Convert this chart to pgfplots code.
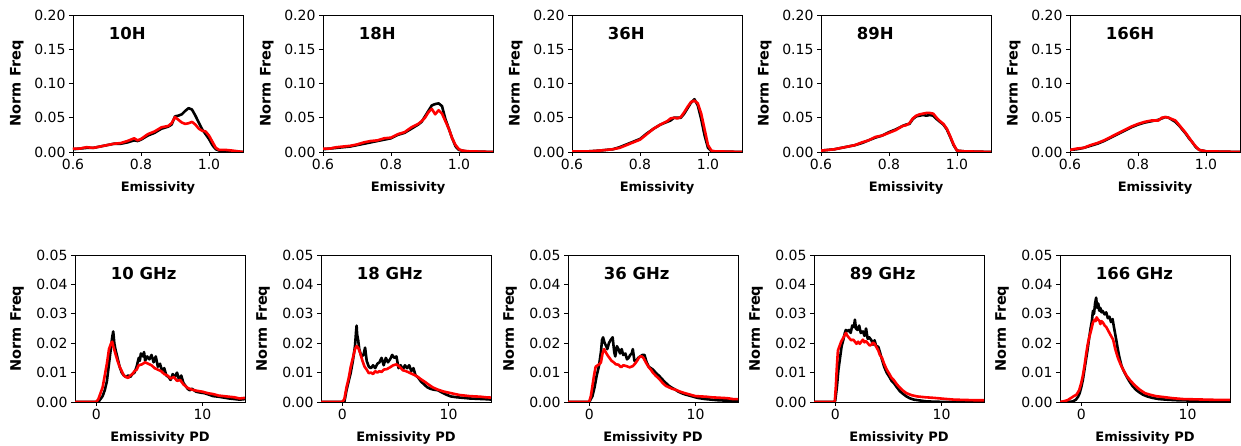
\documentclass[border=0pt]{standalone}
\usepackage{pgfplots}
\pgfplotsset{compat=1.18}
\usepackage{fontspec}
\setmainfont{DejaVu Sans}
\newcommand\tickf{\fontsize{14}{16}\selectfont}
\newcommand\labf{\fontsize{13}{15}\selectfont\bfseries}
\newcommand\ylabf{\fontsize{14.5}{16}\selectfont\bfseries}
\newcommand\titf{\fontsize{16.5}{19}\selectfont\bfseries}
\pgfplotsset{
  panel/.style={
    scale only axis, width=170pt,
    axis line style={line width=0.8pt},
    tick align=outside, major tick length=4pt,
    tick style={line width=0.8pt, black},
    xtick pos=bottom, ytick pos=left,
    ticklabel style={font=\tickf},
    /pgf/number format/assume math mode=true,
    scaled y ticks=false,
    yticklabel style={/pgf/number format/.cd, fixed, fixed zerofill, precision=2},
    ylabel={Norm Freq},
    clip=true,
  },
  toprow/.style={panel, height=137pt, xmin=0.6, xmax=1.1, ymin=0, ymax=0.2,
    xtick={0.6,0.8,1.0}, xticklabels={0.6,0.8,1.0},
    ytick={0,0.05,0.10,0.15,0.20},
    xlabel={Emissivity},
    every axis x label/.style={at={(axis description cs:0.5,-0.215)}, anchor=north, inner sep=0pt, font=\labf},
    every axis y label/.style={at={(axis description cs:-0.33,0.5)}, rotate=90, anchor=center, inner sep=0pt, font=\ylabf},
  },
  botrow/.style={panel, height=147pt, xmin=-2, xmax=14, ymin=0, ymax=0.05,
    xtick={0,10},
    ytick={0,0.01,0.02,0.03,0.04,0.05},
    xlabel={Emissivity PD},
    every axis x label/.style={at={(axis description cs:0.5,-0.2)}, anchor=north, inner sep=0pt, font=\labf},
    every axis y label/.style={at={(axis description cs:-0.34,0.5)}, rotate=90, anchor=center, inner sep=0pt, font=\ylabf},
  },
  bl/.style={black, line width=2.6pt, line join=round},
  rd/.style={red, line width=2.6pt, line join=round},
}
\begin{document}
\begin{tikzpicture}
\path[use as bounding box] (0,0) rectangle (1241pt,446pt);

% ---------- 10H ----------
\begin{axis}[toprow, at={(73pt,294pt)}, anchor=south west]
\addplot[bl] table {
0.60 0.004
0.62 0.005
0.64 0.006
0.66 0.006
0.68 0.008
0.70 0.010
0.72 0.012
0.74 0.012
0.76 0.014
0.78 0.017
0.79 0.016
0.80 0.018
0.82 0.024
0.84 0.028
0.86 0.034
0.88 0.037
0.89 0.040
0.90 0.052
0.91 0.053
0.92 0.055
0.93 0.060
0.94 0.064
0.95 0.062
0.96 0.053
0.97 0.043
0.98 0.033
0.99 0.026
1.00 0.019
1.01 0.010
1.02 0.004
1.03 0.002
1.05 0.001
1.10 0.000
};
\addplot[rd] table {
0.60 0.005
0.62 0.005
0.64 0.007
0.66 0.006
0.68 0.008
0.70 0.010
0.72 0.012
0.74 0.013
0.76 0.016
0.78 0.020
0.79 0.017
0.80 0.019
0.82 0.026
0.84 0.030
0.86 0.036
0.88 0.038
0.89 0.042
0.90 0.051
0.91 0.047
0.92 0.043
0.93 0.041
0.94 0.042
0.95 0.044
0.96 0.040
0.97 0.034
0.98 0.031
0.99 0.030
1.00 0.024
1.01 0.015
1.02 0.006
1.03 0.003
1.05 0.003
1.07 0.002
1.10 0.000
};
\node[anchor=base west, font=\titf, inner sep=0pt] at (rel axis cs:0.21,0.818) {10H};
\end{axis}

% ---------- 18H ----------
\begin{axis}[toprow, at={(323pt,294pt)}, anchor=south west]
\addplot[bl] table {
0.60 0.004
0.62 0.005
0.64 0.006
0.66 0.007
0.68 0.008
0.70 0.010
0.72 0.012
0.74 0.014
0.76 0.016
0.78 0.018
0.80 0.020
0.82 0.025
0.84 0.028
0.86 0.034
0.88 0.040
0.89 0.044
0.90 0.052
0.91 0.060
0.92 0.068
0.93 0.070
0.94 0.071
0.95 0.067
0.96 0.048
0.97 0.034
0.98 0.020
0.99 0.008
1.00 0.003
1.02 0.001
1.10 0.000
};
\addplot[rd] table {
0.60 0.005
0.62 0.005
0.64 0.007
0.66 0.008
0.68 0.009
0.70 0.011
0.72 0.014
0.74 0.016
0.76 0.017
0.78 0.020
0.80 0.021
0.82 0.026
0.84 0.029
0.86 0.036
0.88 0.041
0.89 0.045
0.90 0.050
0.91 0.058
0.92 0.063
0.93 0.055
0.94 0.061
0.95 0.056
0.96 0.045
0.97 0.034
0.98 0.020
0.99 0.010
1.00 0.004
1.01 0.002
1.03 0.001
1.10 0.000
};
\node[anchor=base west, font=\titf, inner sep=0pt] at (rel axis cs:0.21,0.818) {18H};
\end{axis}

% ---------- 36H ----------
\begin{axis}[toprow, at={(572pt,294pt)}, anchor=south west]
\addplot[bl] table {
0.60 0.001
0.65 0.001
0.68 0.002
0.70 0.003
0.72 0.004
0.74 0.007
0.76 0.011
0.78 0.015
0.80 0.019
0.82 0.027
0.84 0.034
0.86 0.040
0.88 0.044
0.89 0.046
0.90 0.050
0.91 0.050
0.92 0.050
0.93 0.056
0.94 0.064
0.95 0.072
0.96 0.077
0.97 0.068
0.98 0.048
0.99 0.024
1.00 0.006
1.01 0.001
1.10 0.000
};
\addplot[rd] table {
0.60 0.001
0.65 0.001
0.68 0.002
0.70 0.003
0.72 0.004
0.74 0.006
0.76 0.010
0.78 0.014
0.80 0.018
0.82 0.026
0.84 0.034
0.86 0.040
0.88 0.045
0.89 0.049
0.90 0.050
0.91 0.049
0.92 0.051
0.93 0.058
0.94 0.066
0.95 0.073
0.96 0.075
0.97 0.071
0.98 0.056
0.99 0.033
1.00 0.010
1.01 0.002
1.02 0.001
1.10 0.000
};
\node[anchor=base west, font=\titf, inner sep=0pt] at (rel axis cs:0.21,0.818) {36H};
\end{axis}

% ---------- 89H ----------
\begin{axis}[toprow, at={(821pt,294pt)}, anchor=south west]
\addplot[bl] table {
0.60 0.002
0.62 0.003
0.64 0.004
0.66 0.006
0.68 0.008
0.70 0.010
0.72 0.013
0.74 0.017
0.76 0.021
0.78 0.024
0.80 0.029
0.82 0.033
0.84 0.038
0.85 0.040
0.86 0.041
0.87 0.048
0.88 0.052
0.89 0.053
0.90 0.054
0.91 0.053
0.92 0.054
0.93 0.053
0.94 0.048
0.95 0.044
0.96 0.040
0.97 0.033
0.98 0.022
0.99 0.010
1.00 0.002
1.02 0.001
1.10 0.000
};
\addplot[rd] table {
0.60 0.002
0.62 0.003
0.64 0.004
0.66 0.006
0.68 0.008
0.70 0.010
0.72 0.014
0.74 0.017
0.76 0.022
0.78 0.024
0.80 0.028
0.82 0.032
0.84 0.038
0.85 0.039
0.86 0.042
0.87 0.049
0.88 0.053
0.89 0.055
0.90 0.056
0.91 0.057
0.92 0.057
0.93 0.056
0.94 0.050
0.95 0.045
0.96 0.041
0.97 0.034
0.98 0.023
0.99 0.011
1.00 0.002
1.02 0.001
1.10 0.000
};
\node[anchor=base west, font=\titf, inner sep=0pt] at (rel axis cs:0.21,0.818) {89H};
\end{axis}

% ---------- 166H ----------
\begin{axis}[toprow, at={(1070pt,294pt)}, anchor=south west]
\addplot[bl] table {
0.60 0.003
0.62 0.004
0.64 0.006
0.66 0.009
0.68 0.012
0.70 0.016
0.72 0.021
0.74 0.026
0.76 0.031
0.78 0.036
0.80 0.040
0.82 0.043
0.84 0.045
0.86 0.047
0.87 0.049
0.88 0.051
0.89 0.050
0.90 0.047
0.91 0.044
0.92 0.039
0.93 0.033
0.94 0.027
0.95 0.020
0.96 0.014
0.97 0.007
0.98 0.003
1.00 0.001
1.10 0.000
};
\addplot[rd] table {
0.60 0.003
0.62 0.005
0.64 0.006
0.66 0.010
0.68 0.013
0.70 0.017
0.72 0.022
0.74 0.027
0.76 0.032
0.78 0.037
0.80 0.041
0.82 0.044
0.84 0.046
0.86 0.046
0.87 0.050
0.88 0.051
0.89 0.050
0.90 0.048
0.91 0.046
0.92 0.040
0.93 0.034
0.94 0.028
0.95 0.021
0.96 0.014
0.97 0.008
0.98 0.003
1.00 0.001
1.10 0.000
};
\node[anchor=base west, font=\titf, inner sep=0pt] at (rel axis cs:0.21,0.818) {166H};
\end{axis}

% ---------- 10 GHz ----------
\begin{axis}[botrow, at={(75pt,44pt)}, anchor=south west]
\addplot[bl] table {
-2 0
0 0
0.2 0
0.4 0.001
0.6 0.002
0.8 0.004
1.0 0.007
1.2 0.013
1.4 0.019
1.5 0.022
1.6 0.024
1.7 0.020
1.8 0.018
2.0 0.015
2.2 0.012
2.4 0.010
2.6 0.009
2.8 0.0085
3.0 0.009
3.2 0.0085
3.4 0.0095
3.6 0.010
3.8 0.012
4.0 0.015
4.1 0.014
4.2 0.0165
4.4 0.0155
4.5 0.017
4.6 0.014
4.8 0.0155
5.0 0.0145
5.2 0.016
5.4 0.0135
5.6 0.0155
5.8 0.012
6.0 0.013
6.2 0.0105
6.4 0.0115
6.6 0.009
6.8 0.0085
7.0 0.0075
7.2 0.0095
7.4 0.0085
7.6 0.010
7.8 0.0075
8.0 0.009
8.2 0.0065
8.4 0.0055
8.6 0.0045
8.8 0.004
9.0 0.0045
9.4 0.0035
9.8 0.0032
10.2 0.003
10.6 0.0025
11.0 0.002
11.5 0.0018
12.0 0.0015
12.5 0.0012
13.0 0.001
13.5 0.0008
14.0 0.001
};
\addplot[rd] table {
-2 0
0 0
0.2 0.001
0.4 0.003
0.6 0.005
0.8 0.009
1.0 0.013
1.2 0.018
1.4 0.020
1.5 0.0205
1.6 0.019
1.8 0.0165
2.0 0.014
2.2 0.012
2.4 0.0105
2.6 0.009
2.8 0.0085
3.0 0.0082
3.2 0.009
3.4 0.0095
3.6 0.0105
3.8 0.011
4.0 0.0125
4.3 0.0128
4.6 0.0135
4.9 0.013
5.2 0.0125
5.5 0.0115
5.8 0.011
6.1 0.0105
6.4 0.0095
6.7 0.009
7.0 0.008
7.3 0.0085
7.6 0.0072
7.9 0.0075
8.2 0.006
8.6 0.0048
9.0 0.0042
9.5 0.0038
10.0 0.0035
10.5 0.003
11.0 0.0027
11.5 0.0022
12.0 0.002
12.5 0.0018
13.0 0.0016
13.5 0.0012
14.0 0.0014
};
\node[anchor=base west, font=\titf, inner sep=0pt] at (rel axis cs:0.21,0.83) {10 GHz};
\end{axis}

% ---------- 18 GHz ----------
\begin{axis}[botrow, at={(321pt,44pt)}, anchor=south west]
\addplot[bl] table {
-2 0
0 0
0.2 0
0.4 0.004
0.6 0.007
0.8 0.010
1.0 0.014
1.2 0.019
1.3 0.024
1.35 0.026
1.4 0.023
1.5 0.021
1.6 0.018
1.8 0.0155
2.0 0.016
2.15 0.0185
2.3 0.014
2.5 0.012
2.7 0.0115
2.9 0.0125
3.1 0.0115
3.3 0.013
3.5 0.0135
3.7 0.015
3.9 0.0125
4.1 0.015
4.3 0.0135
4.5 0.0145
4.7 0.016
4.9 0.015
5.1 0.0155
5.3 0.0115
5.5 0.0125
5.7 0.011
5.9 0.0125
6.1 0.0115
6.3 0.0125
6.5 0.0105
6.7 0.0115
6.9 0.009
7.1 0.0085
7.4 0.007
7.7 0.006
8.0 0.005
8.3 0.0045
8.6 0.0042
9.0 0.004
9.4 0.0032
9.8 0.0025
10.2 0.0019
10.8 0.0016
11.4 0.0014
12.0 0.0012
12.6 0.0011
13.2 0.001
13.8 0.0009
14.0 0.0008
};
\addplot[rd] table {
-2 0
0 0
0.2 0.001
0.4 0.005
0.6 0.008
0.8 0.012
1.0 0.015
1.2 0.018
1.35 0.019
1.5 0.0185
1.7 0.0165
1.9 0.014
2.1 0.012
2.3 0.011
2.5 0.0098
2.7 0.010
2.9 0.0095
3.1 0.0105
3.3 0.010
3.5 0.0105
3.7 0.0102
3.9 0.011
4.2 0.0112
4.5 0.0118
4.8 0.0125
5.1 0.0128
5.4 0.012
5.7 0.0108
6.0 0.0105
6.3 0.010
6.6 0.0095
6.9 0.009
7.2 0.0083
7.5 0.0075
7.8 0.0068
8.1 0.006
8.5 0.005
9.0 0.0042
9.5 0.0036
10.0 0.0032
10.5 0.0028
11.0 0.0024
11.5 0.0022
12.0 0.002
12.5 0.0019
13.0 0.0018
13.5 0.0016
14.0 0.0015
};
\node[anchor=base west, font=\titf, inner sep=0pt] at (rel axis cs:0.21,0.83) {18 GHz};
\end{axis}

% ---------- 36 GHz ----------
\begin{axis}[botrow, at={(568pt,44pt)}, anchor=south west]
\addplot[bl] table {
-2 0
0 0
0.3 0.002
0.5 0.005
0.7 0.009
0.9 0.012
1.1 0.017
1.2 0.021
1.3 0.022
1.45 0.020
1.6 0.019
1.7 0.018
1.85 0.020
2.0 0.021
2.2 0.022
2.35 0.017
2.45 0.0155
2.6 0.019
2.75 0.018
2.9 0.0165
3.05 0.018
3.2 0.016
3.4 0.0165
3.55 0.0145
3.7 0.015
3.85 0.016
4.0 0.0165
4.1 0.018
4.25 0.014
4.4 0.0138
4.6 0.015
4.8 0.0155
5.0 0.016
5.2 0.016
5.4 0.0135
5.6 0.012
5.8 0.0115
6.0 0.011
6.3 0.0098
6.6 0.0088
6.9 0.0076
7.2 0.0065
7.5 0.0055
7.8 0.0048
8.1 0.0042
8.4 0.0035
8.7 0.003
9.0 0.0026
9.4 0.0022
9.8 0.0018
10.2 0.0014
10.9 0.001
11.5 0.0008
12.1 0.0006
12.7 0.0005
13.3 0.0005
14.0 0.0004
};
\addplot[rd] table {
-2 0
-0.1 0
0.0 0.0002
0.15 0.002
0.3 0.0055
0.45 0.009
0.6 0.012
0.8 0.0125
1.0 0.013
1.1 0.0135
1.25 0.0165
1.4 0.018
1.55 0.017
1.7 0.016
1.9 0.015
2.1 0.014
2.3 0.0135
2.5 0.0128
2.75 0.0127
3.0 0.0118
3.2 0.0125
3.5 0.0122
3.8 0.0118
4.1 0.0122
4.3 0.013
4.5 0.014
4.7 0.0152
4.9 0.0156
5.1 0.015
5.35 0.0133
5.6 0.0118
5.8 0.011
6.0 0.0099
6.3 0.0088
6.6 0.0078
6.9 0.0065
7.2 0.0055
7.5 0.005
7.8 0.0045
8.1 0.0042
8.5 0.0036
9.0 0.003
9.5 0.0025
10.0 0.002
10.5 0.0019
11.0 0.0018
11.5 0.0016
12.0 0.0015
12.5 0.0014
13.0 0.0013
13.5 0.001
14.0 0.001
};
\node[anchor=base west, font=\titf, inner sep=0pt] at (rel axis cs:0.21,0.83) {36 GHz};
\end{axis}

% ---------- 89 GHz ----------
\begin{axis}[botrow, at={(814pt,44pt)}, anchor=south west]
\addplot[bl] table {
-2 0
-0.1 0
0.0 0.0005
0.15 0.005
0.3 0.011
0.45 0.015
0.6 0.019
0.75 0.021
0.9 0.0235
1.0 0.0245
1.15 0.024
1.3 0.0245
1.45 0.0235
1.6 0.026
1.75 0.0255
1.85 0.028
1.95 0.025
2.1 0.0245
2.25 0.026
2.4 0.0235
2.6 0.024
2.75 0.0225
2.9 0.025
3.05 0.0215
3.2 0.022
3.4 0.021
3.55 0.0195
3.7 0.021
3.85 0.019
4.05 0.0188
4.2 0.017
4.4 0.0144
4.6 0.012
4.85 0.0099
5.1 0.0085
5.3 0.0072
5.5 0.0065
5.8 0.005
6.1 0.0036
6.4 0.0027
6.7 0.0019
7.0 0.0013
7.4 0.0008
8.0 0.0005
8.6 0.0002
9.5 0.0001
10.5 0
14.0 0
};
\addplot[rd] table {
-2 0
-0.05 0
0.05 0.005
0.15 0.012
0.25 0.0175
0.4 0.019
0.55 0.0205
0.75 0.0218
0.9 0.0228
1.0 0.0235
1.15 0.0225
1.3 0.0218
1.5 0.021
1.7 0.0212
1.85 0.0205
2.0 0.0198
2.15 0.0205
2.3 0.0198
2.45 0.0205
2.6 0.0212
2.75 0.0203
2.9 0.0207
3.1 0.0198
3.25 0.0192
3.4 0.0195
3.55 0.0202
3.7 0.0198
3.9 0.0185
4.05 0.0175
4.2 0.016
4.4 0.015
4.6 0.013
4.85 0.011
5.1 0.0095
5.3 0.0082
5.5 0.0075
5.8 0.006
6.1 0.0048
6.4 0.0038
6.7 0.003
7.2 0.0023
7.7 0.0019
8.5 0.0016
9.3 0.0014
10.2 0.0011
11.2 0.0008
12.2 0.0007
13.1 0.0006
14.0 0.0006
};
\node[anchor=base west, font=\titf, inner sep=0pt] at (rel axis cs:0.21,0.83) {89 GHz};
\end{axis}

% ---------- 166 GHz ----------
\begin{axis}[botrow, at={(1060pt,44pt)}, anchor=south west]
\addplot[bl] table {
-2 0
-1.0 0.0001
-0.8 0.0002
-0.5 0.0008
-0.3 0.0018
-0.15 0.003
0.0 0.005
0.15 0.0075
0.3 0.011
0.45 0.0145
0.6 0.018
0.75 0.022
0.9 0.0255
1.0 0.0275
1.1 0.031
1.2 0.030
1.3 0.0335
1.4 0.0355
1.5 0.032
1.6 0.0335
1.7 0.031
1.8 0.032
1.9 0.0305
2.0 0.031
2.2 0.0298
2.35 0.0305
2.5 0.0285
2.65 0.029
2.8 0.0272
2.95 0.0282
3.05 0.026
3.15 0.024
3.3 0.021
3.45 0.0178
3.6 0.015
3.8 0.0122
4.0 0.0105
4.25 0.0088
4.5 0.0072
4.85 0.0053
5.2 0.004
5.5 0.0032
5.8 0.0025
6.2 0.0019
6.7 0.0014
7.3 0.001
8.0 0.0008
9.0 0.0006
10.2 0.0005
11.8 0.0004
13.4 0.0003
14.0 0.0003
};
\addplot[rd] table {
-2 0
-1.7 0.0002
-1.3 0.0006
-0.95 0.0014
-0.7 0.002
-0.45 0.0025
-0.2 0.004
0.0 0.0065
0.15 0.009
0.3 0.0122
0.45 0.016
0.6 0.0195
0.75 0.022
0.95 0.0247
1.1 0.027
1.25 0.028
1.35 0.0275
1.45 0.0288
1.55 0.0282
1.7 0.0276
1.8 0.0265
1.9 0.0275
2.05 0.027
2.2 0.026
2.35 0.0255
2.5 0.0245
2.65 0.0235
2.8 0.0225
3.0 0.0212
3.2 0.018
3.45 0.015
3.7 0.0128
3.95 0.011
4.25 0.009
4.55 0.0076
5.0 0.0058
5.5 0.0042
6.0 0.003
6.45 0.0025
7.0 0.002
7.7 0.0017
8.6 0.0013
9.6 0.001
10.7 0.0009
11.8 0.0008
13.0 0.0007
14.0 0.0007
};
\node[anchor=base west, font=\titf, inner sep=0pt] at (rel axis cs:0.21,0.83) {166 GHz};
\end{axis}
\end{tikzpicture}
\end{document}
